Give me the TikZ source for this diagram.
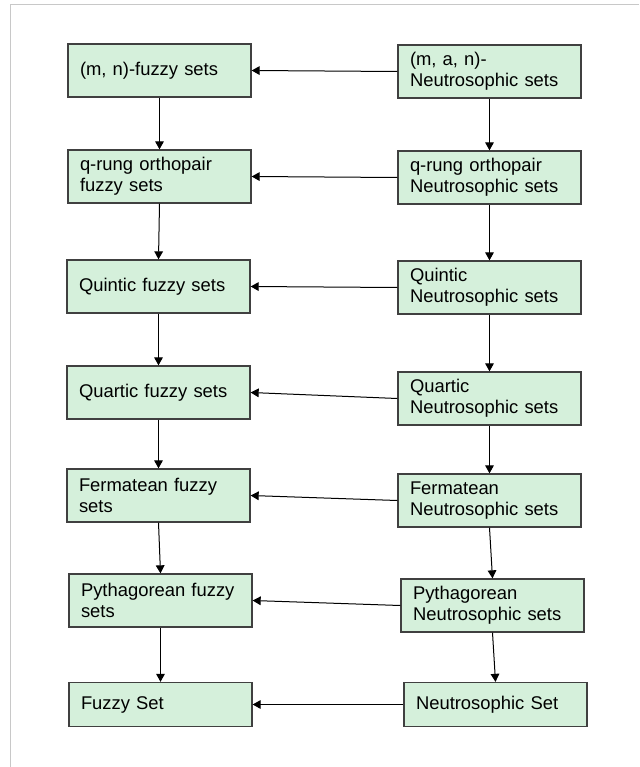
\documentclass[tikz,border=0pt]{standalone}
\usepackage{fontspec}
\setmainfont{Liberation Sans}
\usetikzlibrary{arrows.meta}
\definecolor{boxfill}{RGB}{213,240,219}
\definecolor{boxline}{RGB}{64,64,64}
\definecolor{framegray}{RGB}{200,200,200}
\begin{document}
\begin{tikzpicture}[x=0.75pt,y=-0.75pt,
  box/.style={draw=boxline, line width=1pt, fill=boxfill, rectangle,
    minimum width=137.25pt, minimum height=39.75pt, text width=119.25pt,
    inner xsep=9pt, inner ysep=2pt, align=left,
    font=\fontsize{13.8pt}{15.75pt}\selectfont},
  lowbox/.style={box, minimum height=33pt},
  conn/.style={draw=black, line width=0.75pt, -{Triangle[length=6pt,width=6.5pt]}}]
\useasboundingbox (0,0) rectangle (639,767);
\draw[framegray, line width=0.75pt] (639,4.5) -- (10.5,4.5) -- (10.5,767);
% left column
\node[box] (L1) at (159.5,70.5) {(m, n)-fuzzy sets};
\node[box] (L2) at (159.5,176.5) {q-rung orthopair\\fuzzy sets};
\node[box] (L3) at (158.5,286.5) {Quintic fuzzy sets};
\node[box] (L4) at (158.5,392.5) {Quartic fuzzy sets};
\node[box] (L5) at (158.5,495.5) {Fermatean fuzzy\\sets};
\node[box] (L6) at (160.5,600.5) {Pythagorean fuzzy\\sets};
\node[lowbox] (L7) at (160.5,704.5) {Fuzzy Set};
% right column
\node[box] (R1) at (489.5,71.5) {(m, a, n)-\\Neutrosophic sets};
\node[box] (R2) at (489.5,177.5) {q-rung orthopair\\Neutrosophic sets};
\node[box] (R3) at (489.5,287.5) {Quintic\\Neutrosophic sets};
\node[box] (R4) at (489.5,398.5) {Quartic\\Neutrosophic sets};
\node[box] (R5) at (489.5,500.5) {Fermatean\\Neutrosophic sets};
\node[box] (R6) at (492.5,605.5) {Pythagorean\\Neutrosophic sets};
\node[lowbox] (R7) at (495.5,704.5) {Neutrosophic Set};
% vertical connectors
\foreach \a/\b in {L1/L2,L2/L3,L3/L4,L4/L5,L5/L6,L6/L7,R1/R2,R2/R3,R3/R4,R4/R5,R5/R6,R6/R7}
  \draw[conn] (\a.south) -- (\b.north);
% horizontal connectors
\foreach \i in {1,...,7}
  \draw[conn] (R\i.west) -- (L\i.east);
\end{tikzpicture}
\end{document}
